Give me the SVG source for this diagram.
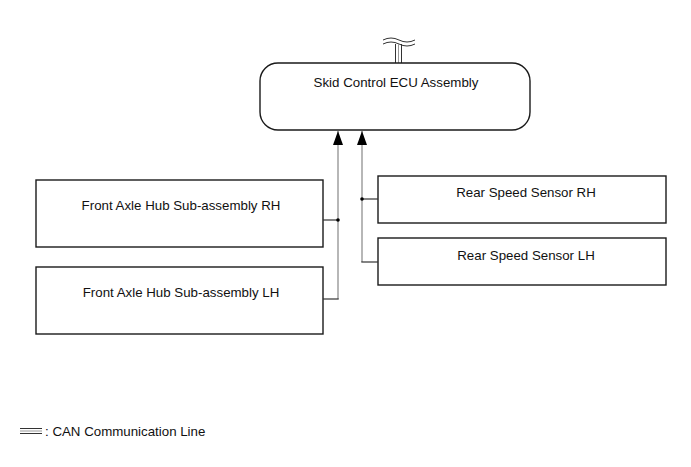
<svg xmlns="http://www.w3.org/2000/svg" width="691" height="467" viewBox="0 0 691 467">
<style>
.box{fill:#fff;stroke:#1a1a1a;stroke-width:1.4}
.t{font-family:"Liberation Sans",Arial,sans-serif;font-size:13.3px;fill:#111;text-anchor:middle}
.v{stroke:#999;stroke-width:1.4;fill:none}
.h{stroke:#333;stroke-width:1.2;fill:none}
.can{stroke:#333;stroke-width:1;fill:none}
</style>
<defs>
<marker id="arr" markerWidth="14" markerHeight="10" refX="14" refY="5" orient="auto" markerUnits="userSpaceOnUse" viewBox="0 0 14 10">
<path d="M0,0 L14,5 L0,10 Z" fill="#000"/>
</marker>
</defs>
<rect width="691" height="467" fill="#fff"/>
<g id="can-top">
<path class="can" d="M383,40 q8,-4 16,0 t16,0"/>
<path class="can" d="M383,44 q8,-4 16,0 t16,0"/>
<line class="can" x1="395.5" y1="44" x2="395.5" y2="63"/>
<line x1="398.5" y1="44" x2="398.5" y2="63" stroke="#999" stroke-width="1"/>
<line class="can" x1="401.5" y1="44" x2="401.5" y2="63"/>
</g>
<g id="ecu">
<rect class="box" x="260" y="63" width="270" height="67" rx="18" ry="18"/>
<text class="t" x="396" y="87">Skid Control ECU Assembly</text>
</g>
<g id="front-rh">
<rect class="box" x="36" y="180" width="287" height="67"/>
<text class="t" x="181" y="210">Front Axle Hub Sub-assembly RH</text>
</g>
<g id="front-lh">
<rect class="box" x="36" y="267" width="287" height="67"/>
<text class="t" x="181" y="297">Front Axle Hub Sub-assembly LH</text>
</g>
<g id="rear-rh">
<rect class="box" x="378" y="176" width="288" height="47"/>
<text class="t" x="526" y="197">Rear Speed Sensor RH</text>
</g>
<g id="rear-lh">
<rect class="box" x="378" y="238" width="288" height="47"/>
<text class="t" x="526" y="260">Rear Speed Sensor LH</text>
</g>
<g id="connectors">
<line class="v" x1="338" y1="299" x2="338" y2="131" marker-end="url(#arr)"/>
<line class="h" x1="323" y1="220" x2="338" y2="220"/>
<line class="h" x1="323" y1="299" x2="338.7" y2="299"/>
<circle cx="338" cy="220" r="1.8" fill="#000"/>
<line class="v" x1="362" y1="262" x2="362" y2="131" marker-end="url(#arr)"/>
<line class="h" x1="362" y1="199" x2="378" y2="199"/>
<line class="h" x1="361.3" y1="262" x2="378" y2="262"/>
<circle cx="362" cy="199" r="1.8" fill="#000"/>
</g>
<g id="legend">
<line class="can" x1="20" y1="428.5" x2="42" y2="428.5"/>
<line x1="20" y1="431" x2="42" y2="431" stroke="#999" stroke-width="1"/>
<line class="can" x1="20" y1="433.5" x2="42" y2="433.5"/>
<text x="45" y="436" font-family="'Liberation Sans',Arial,sans-serif" font-size="13.3px" fill="#111">: CAN Communication Line</text>
</g>
</svg>
